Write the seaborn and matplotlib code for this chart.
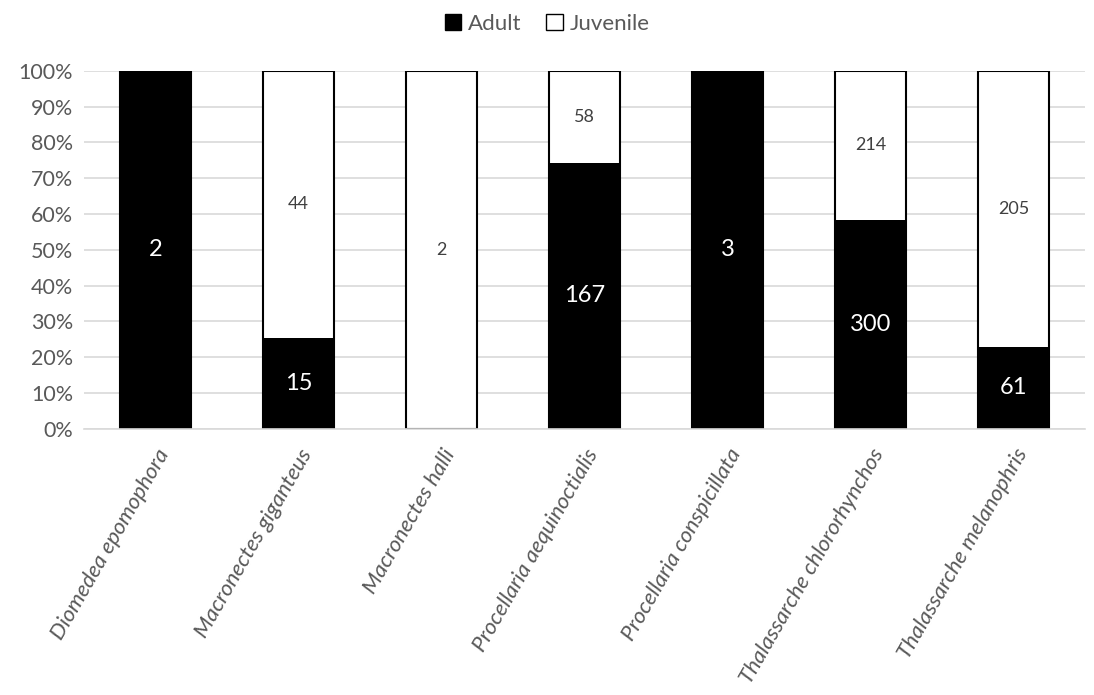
import matplotlib
matplotlib.use("Agg")
import matplotlib.pyplot as plt
from matplotlib.patches import Patch
from matplotlib.ticker import PercentFormatter, MultipleLocator
import pandas as pd
import seaborn as sns

species = [
    "Diomedea epomophora",
    "Macronectes giganteus",
    "Macronectes halli",
    "Procellaria aequinoctialis",
    "Procellaria conspicillata",
    "Thalassarche chlororhynchos",
    "Thalassarche melanophris",
]
adult = [2, 15, 0, 167, 3, 300, 61]
juvenile = [0, 44, 2, 58, 0, 214, 205]

df = pd.DataFrame({"species": species, "Adult": adult, "Juvenile": juvenile})
df["total"] = df["Adult"] + df["Juvenile"]
df["adult_pct"] = df["Adult"] / df["total"] * 100
df["total_pct"] = 100.0

sns.set_theme(style="white")
plt.rcParams["font.family"] = ["Lato", "DejaVu Sans"]

fig = plt.figure(figsize=(10.94, 6.95), dpi=100)
ax = fig.add_axes([0.077, 0.383, 0.915, 0.515])

grey = "#595959"
# full-height juvenile bars underneath, adult bars on top
sns.barplot(data=df, x="species", y="total_pct", color="white", edgecolor="black",
            linewidth=1.5, width=0.5, ax=ax, saturation=1)
sns.barplot(data=df, x="species", y="adult_pct", color="black", edgecolor="black",
            linewidth=0.0, width=0.5, ax=ax, saturation=1)

ax.set_ylim(0, 100)
ax.set_xlim(-0.5, len(species) - 0.5)
ax.yaxis.set_major_locator(MultipleLocator(10))
ax.yaxis.set_major_formatter(PercentFormatter(decimals=0))
ax.grid(axis="y", color="#d9d9d9", linewidth=1.2)
ax.set_axisbelow(True)
for s in ["top", "right", "left"]:
    ax.spines[s].set_visible(False)
ax.spines["bottom"].set_color("#d9d9d9")
ax.spines["bottom"].set_linewidth(1.2)
ax.set_xlabel("")
ax.set_ylabel("")
ax.tick_params(axis="y", labelsize=15.5, colors=grey, length=0, pad=8)
ax.tick_params(axis="x", length=0, pad=12)
ax.set_xticks(range(len(species)))
ax.set_xticklabels(species, rotation=60, ha="right", rotation_mode="anchor",
                   fontsize=16, color=grey, style="italic")

# segment counts
for i, row in df.iterrows():
    a_pct = row["adult_pct"]
    if row["Adult"] > 0:
        ax.text(i, a_pct / 2, f"{row['Adult']}", ha="center", va="center",
                color="white", fontsize=17)
    if row["Juvenile"] > 0:
        ax.text(i, a_pct + (100 - a_pct) / 2, f"{row['Juvenile']}", ha="center",
                va="center", color="#404040", fontsize=13)

handles = [Patch(facecolor="black", edgecolor="black", label="Adult"),
           Patch(facecolor="white", edgecolor="black", label="Juvenile")]
leg = fig.legend(handles=handles, loc="center", bbox_to_anchor=(0.5, 0.966), ncol=2,
                 frameon=False, fontsize=16, handlelength=0.75, handleheight=0.75,
                 handletextpad=0.3, columnspacing=1.1)
for t in leg.get_texts():
    t.set_color(grey)

fig.savefig("out.png", dpi=100)
